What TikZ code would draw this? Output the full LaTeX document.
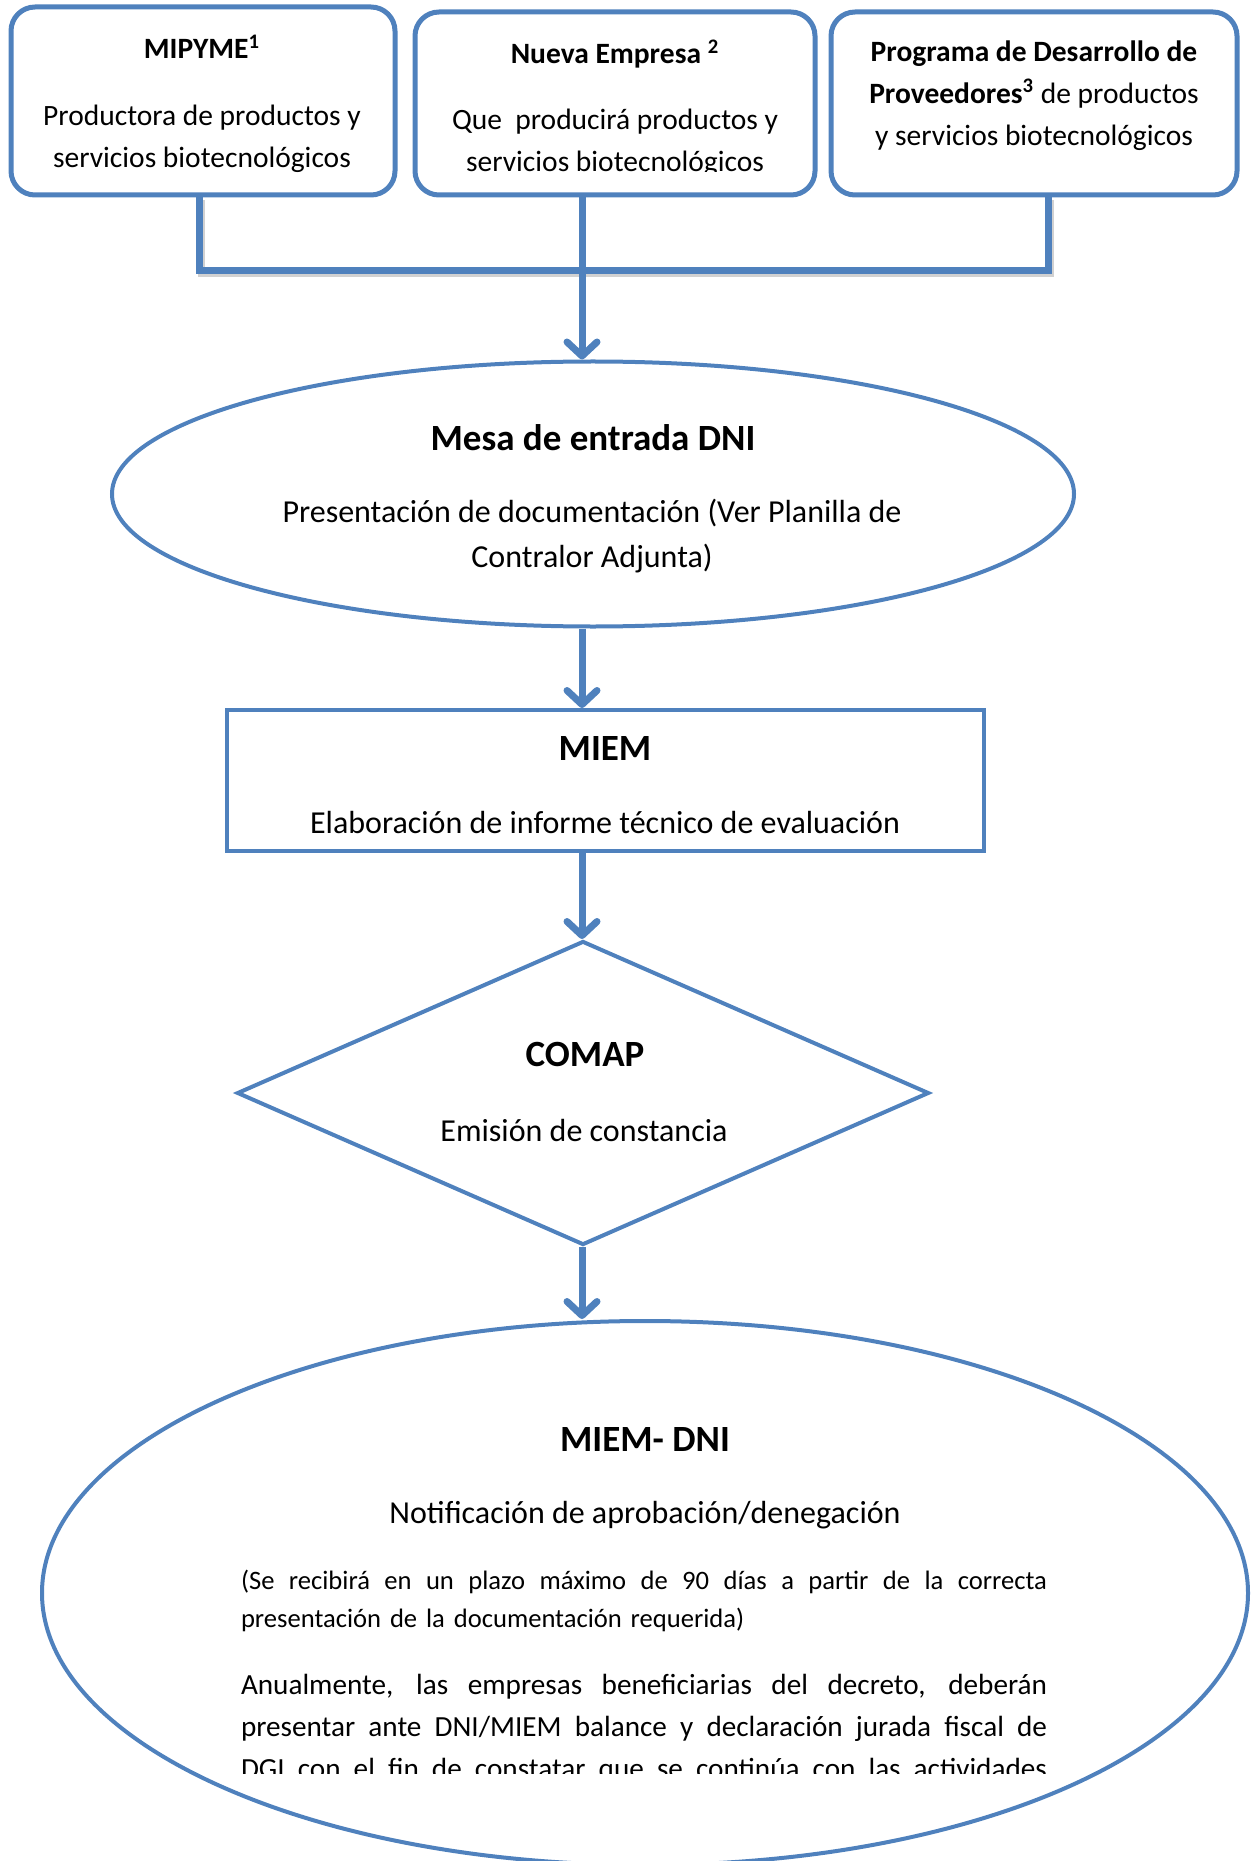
\documentclass[tikz,border=0pt]{standalone}
\usepackage{fontspec}
\setmainfont{Carlito}
\usetikzlibrary{shapes.geometric,arrows.meta}
\definecolor{wordblue}{HTML}{4F81BD}
\newcommand{\fullline}[1]{\makebox[403pt][s]{\spaceskip=\fontdimen2\font plus 1fil\relax\xspaceskip=\spaceskip #1}}

\begin{document}
\begin{tikzpicture}[x=0.5pt, y=-0.5pt]
\tikzset{topbox/.style={draw=wordblue,line width=2.5pt,rounded corners=12pt,inner sep=0,fill=white},
bluebox/.style={draw=wordblue,line width=2pt,inner sep=0},
link/.style={draw=wordblue,line width=3.5pt},
flow/.style={link,-{Straight Barb[round,length=7pt,width=15pt]}},
linkshade/.style={draw=black!18,line width=3.5pt,transform canvas={shift={(1.2pt,-1.5pt)}}},
headtext/.style={font=\fontsize{18.5}{22}\selectfont\bfseries},
boxhead/.style={font=\fontsize{14.75}{21}\selectfont\bfseries},
boxtext/.style={font=\fontsize{14.75}{21}\selectfont,align=center},
bodytext/.style={font=\fontsize{16}{22.5}\selectfont,align=center}}

\useasboundingbox (0,0) rectangle (1250,1861);

\node (mipyme) [topbox,minimum width=192pt,minimum height=94pt] at (203,101) {};
\node (nueva) [topbox,minimum width=200pt,minimum height=91.5pt] at (615,103.5) {};
\node (prov) [topbox,minimum width=203pt,minimum height=91.5pt] at (1034,103.5) {};
\node (mesa) [bluebox,ellipse,minimum width=481pt,minimum height=132.5pt] at (593,494) {};
\node (miem) [bluebox,rectangle,minimum width=378.5pt,minimum height=70.5pt] at (605.5,780.5) {};
\node (comap) [bluebox,diamond,minimum width=346pt,minimum height=152pt] at (583,1093) {};
\node (dni) [bluebox,ellipse,minimum width=603pt,minimum height=272pt] at (645,1593) {};

\coordinate (j1) at (199,271);
\coordinate (j3) at (1048,271);
\coordinate (junta) at (582,271);

%% Texts
\node (mipymehead) [boxhead] at (202,47) {MIPYME\textsuperscript{1}};
\node (mipymetext) [boxtext] at (202,138.5) {Productora de productos y\\servicios biotecnológicos};
\node (nuevahead) [boxhead] at (615,54) {Nueva Empresa \textsuperscript{2}};
\begin{scope}
\clip (415,12) rectangle (815,172);
\node (nuevatext) [boxtext] at (615,143) {Que\ \ producirá productos y\\servicios biotecnológicos};
\end{scope}
\node (provtext) [boxtext] at (1034,95.5) {\textbf{Programa de Desarrollo de}\\\textbf{Proveedores\textsuperscript{3}} de productos\\y servicios biotecnológicos};

\node (mesahead) [headtext] at (593,438) {Mesa de entrada DNI};
\node (mesatext) [bodytext] at (592,536.5) {Presentación de documentación (Ver Planilla de\\Contralor Adjunta)};
\node (miemhead) [headtext] at (605,748) {MIEM};
\node (miemtext) [bodytext] at (605,823) {Elaboración de informe técnico de evaluación};
\node (comaphead) [headtext] at (585,1054) {COMAP};
\node (comaptext) [bodytext] at (584,1130) {Emisión de constancia};
\node (dnihead) [headtext] at (645,1439) {MIEM- DNI};
\node (dnitext) [bodytext] at (645,1515) {Notificación de aprobación/denegación};
\node (plazo) [text width=403pt,inner sep=0,align=left,font=\fontsize{13.3}{19}\selectfont] at (644,1601)
  {\fullline{(Se recibirá en un plazo máximo de 90 días a partir de la correcta}\\presentación de la documentación requerida)};
\begin{scope}
\clip (200,1640) rectangle (1100,1773);
\node (anual) [text width=403pt,inner sep=0,align=left,font=\fontsize{14.6}{21}\selectfont] at (644,1728.5)
  {\fullline{Anualmente, las empresas beneficiarias del decreto, deberán}\\
   \fullline{presentar ante DNI/MIEM balance y declaración jurada fiscal de}\\
   \fullline{DGI con el fin de constatar que se continúa con las actividades}};
\end{scope}

%% Edges
\draw[linkshade] (j1 |- mipyme.south) -- (j1) -- (j3) -- (j3 |- prov.south);
\draw[link] (j1 |- mipyme.south) -- (j1) -- (j3) -- (j3 |- prov.south);
\draw[link] (junta |- nueva.south) -- (junta);
\draw[flow] (junta) -- (junta |- mesa.north);
\draw[flow] (mesa.south -| junta) -- (miem.north -| junta);
\draw[flow] (miem.south -| junta) -- (comap.north -| junta);
\draw[flow] (comap.south -| junta) -- (dni.north -| junta);

\end{tikzpicture}
\end{document}
